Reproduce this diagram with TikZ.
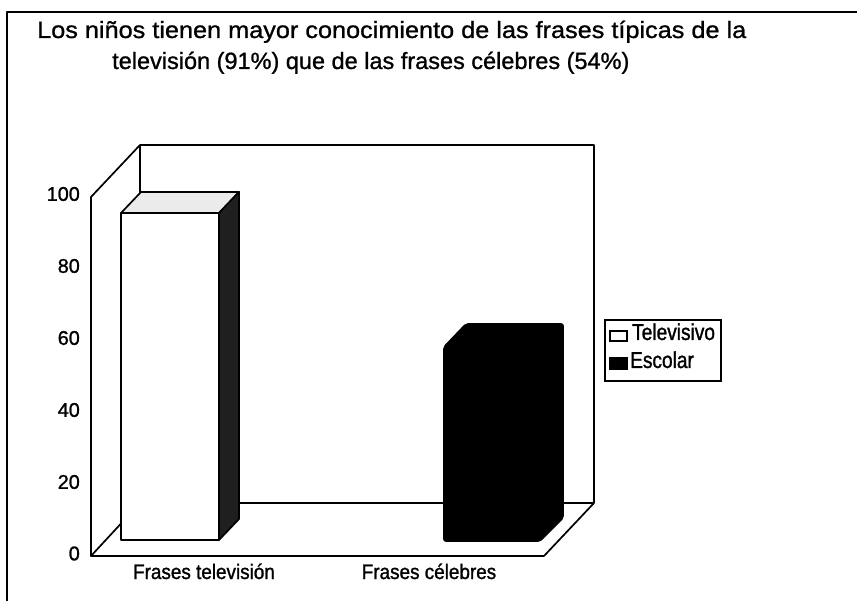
\documentclass[tikz,border=0pt]{standalone}
\usepackage{fontspec}
\setmainfont{Liberation Sans}
\newfontfamily\lsans[FakeBold=1.2]{Liberation Sans}
\newfontfamily\lcat[FakeStretch=0.9,FakeBold=1.2]{Liberation Sans}
\newfontfamily\lnarrow[FakeStretch=0.83,FakeBold=1.2]{Liberation Sans}
\newfontfamily\lwide[FakeStretch=1.075,FakeBold=1.0]{Liberation Sans}
\newfontfamily\lwideb[FakeStretch=1.0,FakeBold=1.0]{Liberation Sans}
\begin{document}
\begin{tikzpicture}[x=1pt,y=-1pt,
  edge/.style={line width=1.7pt,line join=round},
  titletext/.style={inner sep=0pt,anchor=base west},
  axislabel/.style={font=\lsans\fontsize{19.8}{21}\selectfont,inner sep=0pt,anchor=east},
  catlabel/.style={font=\lcat\fontsize{21}{23}\selectfont,inner sep=0pt,anchor=base},
  legtext/.style={font=\lnarrow\fontsize{23}{25}\selectfont,inner sep=0pt,anchor=base west}]
\useasboundingbox (0,0) rectangle (857,601);
\fill[white] (0,0) rectangle (857,601);
% outer frame
\coordinate (fTL) at (7,12);
\coordinate (fTR) at (857,12);
\coordinate (fBL) at (7,601);
\draw[edge] (fTR) -- (fTL) -- (fBL);
% title
\node[titletext,font=\lwide\fontsize{23.5}{26}\selectfont] (t1) at (37,38) {Los niños tienen mayor conocimiento de las frases típicas de la};
\node[titletext,font=\lwideb\fontsize{23.5}{26}\selectfont] (t2) at (112,69) {televisión (91\%) que de las frases célebres (54\%)};
% walls and floor
\coordinate (lwTop) at (91,197);
\coordinate (lwBot) at (91,556);
\coordinate (bwTL) at (140,145);
\coordinate (bwTR) at (594,145);
\coordinate (bwBL) at (140,503);
\coordinate (bwBR) at (594,503);
\coordinate (flFR) at (544,556);
\draw[edge] (lwBot) -- (lwTop) -- (bwTL) -- (bwTR) -- (bwBR);
\draw[edge] (bwTL) -- (bwBL);
\draw[edge] (lwBot) -- (flFR) -- (bwBR) -- (bwBL) -- cycle;
% bar 1 (Televisivo, 91)
\coordinate (b1a) at (121,540);
\coordinate (b1b) at (121,213);
\coordinate (b1c) at (219,213);
\coordinate (b1d) at (219,540);
\coordinate (b1e) at (141,192);
\coordinate (b1f) at (239,192);
\coordinate (b1g) at (239,519);
\draw[edge,fill=white] (b1a) -- (b1b) -- (b1c) -- (b1d) -- cycle;
\draw[edge,fill=black!8] (b1b) -- (b1e) -- (b1f) -- (b1c) -- cycle;
\draw[edge,fill=black!88] (b1c) -- (b1f) -- (b1g) -- (b1d) -- cycle;
% bar 2 (Escolar, 54)
\coordinate (b2a) at (444,541);
\coordinate (b2b) at (444,347);
\coordinate (b2c) at (466,324);
\coordinate (b2d) at (563,324);
\coordinate (b2e) at (563,518);
\coordinate (b2f) at (540,541);
\draw[edge,fill=black,rounded corners=2pt] (b2a) -- (b2b) -- (b2c) -- (b2d) -- (b2e) -- (b2f) -- cycle;
% axis labels
\node[axislabel] (y100) at (80,194) {100};
\node[axislabel] (y80) at (80,266) {80};
\node[axislabel] (y60) at (80,338) {60};
\node[axislabel] (y40) at (80,410) {40};
\node[axislabel] (y20) at (80,482) {20};
\node[axislabel] (y0) at (80,553.5) {0};
% category labels
\node[catlabel] (c1) at (204,579) {Frases televisión};
\node[catlabel] (c2) at (429,579) {Frases célebres};
% legend
\draw[line width=1.5pt] (605,320) rectangle (721,381);
\draw[line width=1.3pt,fill=white] (610,331) rectangle (627,341);
\draw[line width=1.3pt,fill=black] (610,358) rectangle (627,369);
\node[legtext] (l1) at (632,340) {Televisivo};
\node[legtext] (l2) at (630,368) {Escolar};
\end{tikzpicture}
\end{document}
